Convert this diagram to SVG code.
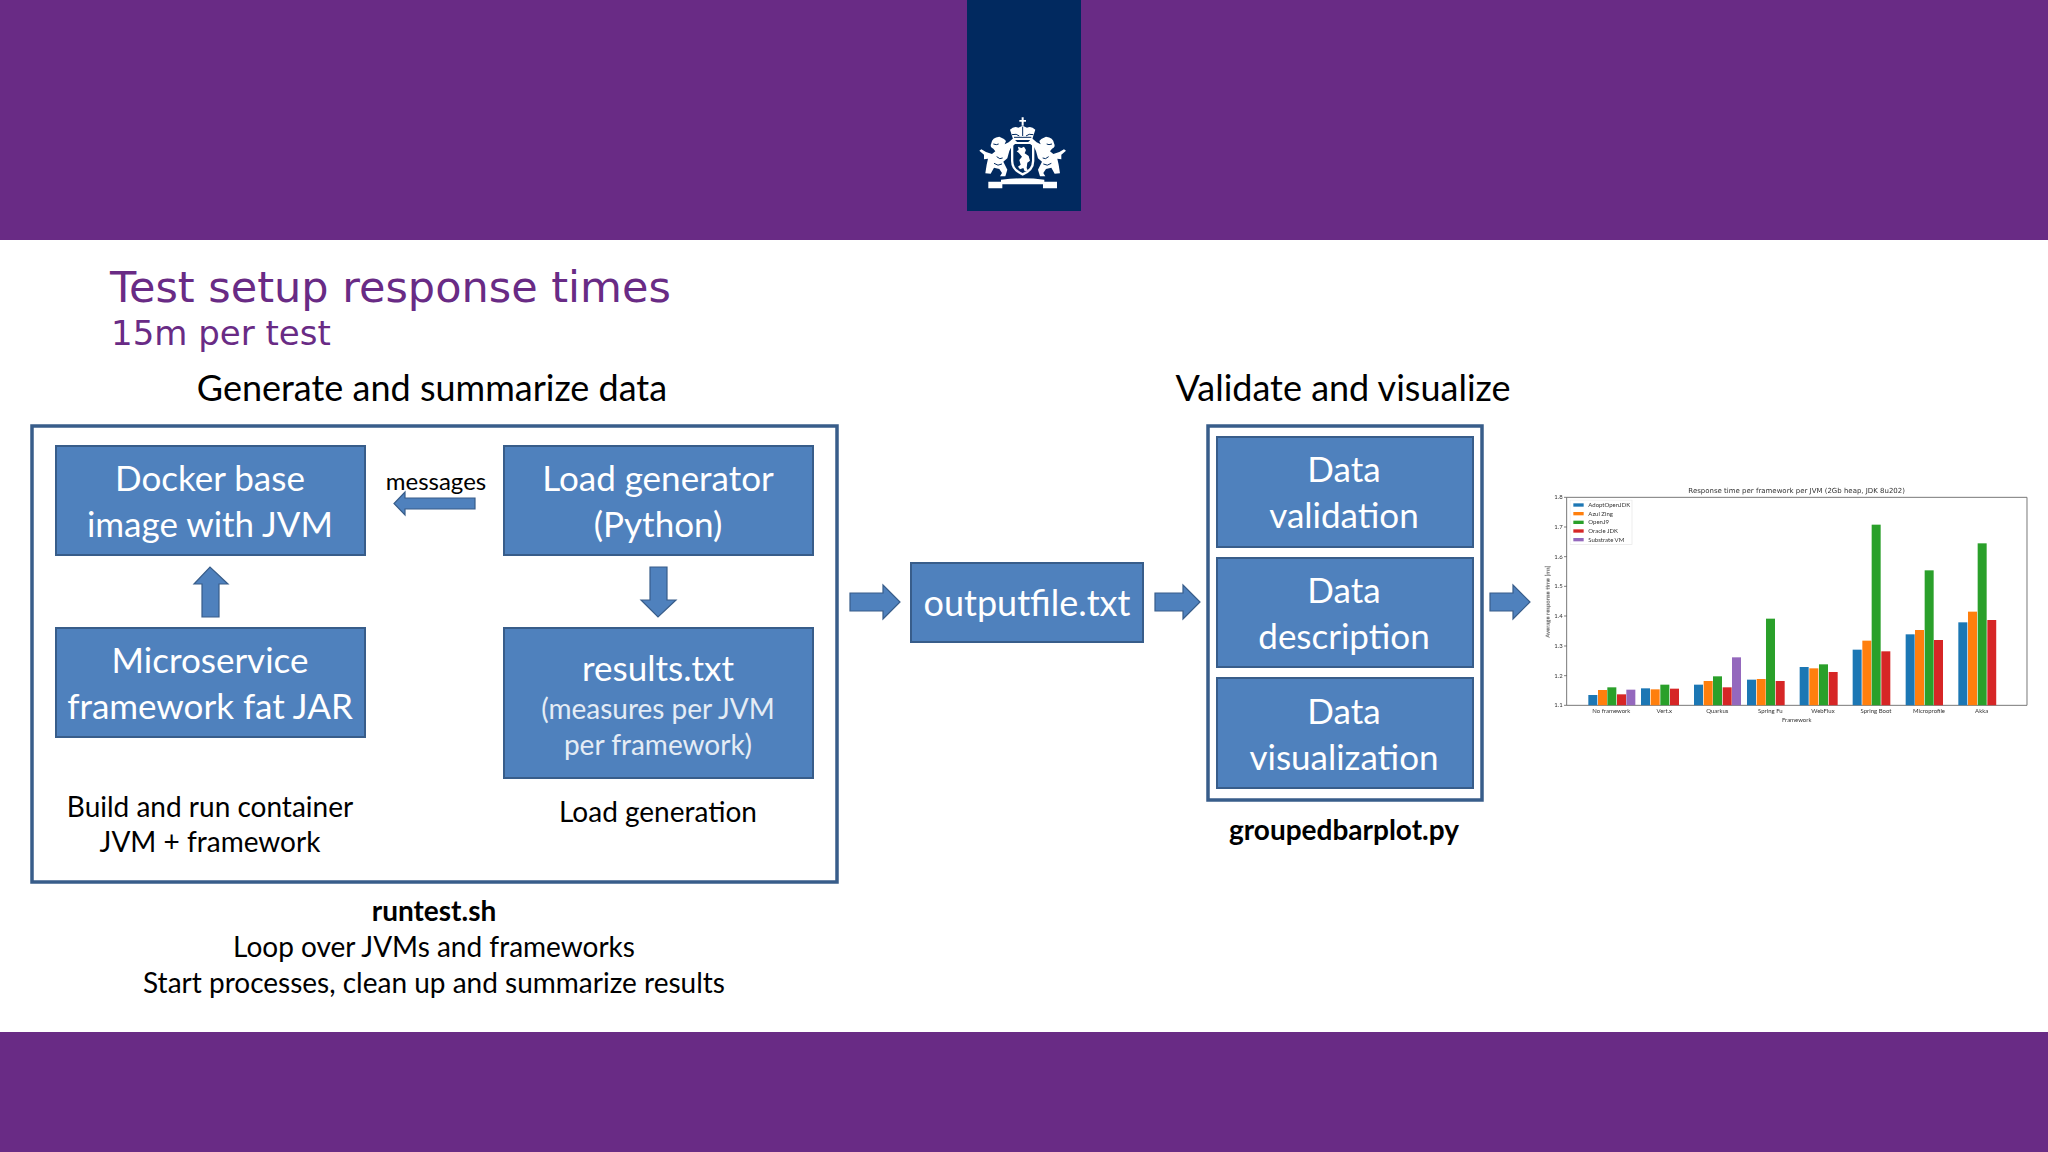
<svg xmlns="http://www.w3.org/2000/svg" width="2048" height="1152" viewBox="0 0 2048 1152">
<defs>
<style>
.band{fill:#692b85}
.box{fill:#4f81bd;stroke:#385d8a;stroke-width:2}
.frame{fill:#fff;stroke:#385d8a;stroke-width:3.500}
.arr{fill:#4f81bd;stroke:#385d8a;stroke-width:1.200}
text{font-family:"Lato","Carlito","Liberation Sans",sans-serif;text-anchor:middle}
.w{fill:#fff;font-size:35px}
.s{fill:#e4ecf5;font-size:28px}
.k{fill:#000;font-size:28px}
.m{fill:#000;font-size:24px}
.h{fill:#000;font-size:36px}
.b{font-weight:700}
.t{fill:#692b85;font-family:"DejaVu Sans",sans-serif;text-anchor:start}
.c{fill:#333;font-family:"DejaVu Sans",sans-serif;font-size:18px}
.cl{text-anchor:start}
.ct{text-anchor:end}
.ba{fill:#1f77b4}.or{fill:#ff7f0e}.gr{fill:#2ca02c}.re{fill:#d62728}.pu{fill:#9467bd}
.crest{fill:#fff}
.cut{fill:none;stroke:#01295f;stroke-width:3}
</style>
<filter id="soft" x="-5%" y="-5%" width="110%" height="110%"><feGaussianBlur stdDeviation="0.55"/></filter>
</defs>
<rect width="2048" height="1152" fill="#fff"/>
<rect class="band" width="2048" height="240"/>
<rect class="band" y="1032" width="2048" height="120"/>
<g id="logo">
<rect x="967" width="114" height="211" fill="#01295f"/>
<g class="crest" transform="translate(950 0) scale(.3333)" filter="url(#soft)">
<path d="M215 352h6v8h7v5h-7v12h-6v-12h-7v-5h7z"/>
<path d="M190 420l-10-31q12-12 25-6l13-6 13 6q13-6 25 6l-10 31z"/>
<path class="cut" d="M186 404q14-4 22 4M250 404q-14-4-22 4M218 380v28M192 412h52"/>
<path d="M183 426h70v57q0 30-35 44-35-14-35-44z"/>
<path fill="#01295f" d="M190 432h56v50q0 26-28 37-28-11-28-37z"/>
<path d="M204 440l10 4 8-4 6 10-4 10 12 8 4 14-8 6-2 16 4 8-10 2-4-10-10 4-6-8 8-6-4-14 8-10-10-12-6-4 6-4z"/>
<path d="M148 410q-22 2-24 20-6 12 6 16l6 8-10 8-18-6-14-8-6 4 14 12 0 14 12-2-4 18-4 26 16 1 10-18 16 4 8 12-6 10h16l6-20-12-24 12-10 6-22 6-12 18-14-12-12-14 12-12 6 4-10-6-6z"/>
<path d="M288 410q22 2 24 20 6 12-6 16l-6 8 10 8 18-6 14-8 6 4-14 12 0 14-12-2 4 18 4 26-16 1-10-18-16 4-8 12 6 10h-16l-6-20 12-24-12-10-6-22-6-12-18-14 12-12 14 12 12 6-4-10 6-6z"/>
<path class="cut" d="M130 432q10 4 16 0M140 470q10 10 18 4M132 490q12 10 24 2M306 432q-10 4-16 0M296 470q-10 10-18 4M304 490q-12 10-24 2"/>
<path d="M115 545h38v-6q65-8 130 0v6h38v20h-42v-12h-122v12h-42z"/>
</g>
</g>
<text class="t" x="110" y="302" font-size="43">Test setup response times</text>
<text class="t" x="111" y="345" font-size="34">15m per test</text>
<text class="h" x="432" y="401">Generate and summarize data</text>
<text class="h" x="1343" y="401">Validate and visualize</text>

<g id="generate-frame"><rect class="frame" x="32" y="426" width="805" height="456"/></g>
<g id="validate-frame"><rect class="frame" x="1208" y="426" width="274" height="374"/></g>

<g id="docker"><rect class="box" x="56" y="446" width="309" height="109"/>
<text class="w" x="210" y="491">Docker base</text><text class="w" x="210" y="537">image with JVM</text></g>
<g id="loadgen"><rect class="box" x="504" y="446" width="309" height="109"/>
<text class="w" x="658" y="491">Load generator</text><text class="w" x="658" y="537">(Python)</text></g>
<g id="microservice"><rect class="box" x="56" y="628" width="309" height="109"/>
<text class="w" x="210" y="673">Microservice</text><text class="w" x="210" y="719">framework fat JAR</text></g>
<g id="results"><rect class="box" x="504" y="628" width="309" height="150"/>
<text class="w" x="658" y="681">results.txt</text><text class="s" x="658" y="719">(measures per JVM</text><text class="s" x="658" y="755">per framework)</text></g>
<g id="outputfile"><rect class="box" x="911" y="563" width="232" height="79"/>
<text class="w" x="1027" y="616" style="font-size:36px">outputfile.txt</text></g>
<g id="validation"><rect class="box" x="1217" y="437" width="256" height="110"/>
<text class="w" x="1344" y="482">Data</text><text class="w" x="1344" y="528">validation</text></g>
<g id="description"><rect class="box" x="1217" y="558" width="256" height="109"/>
<text class="w" x="1344" y="603">Data</text><text class="w" x="1344" y="649">description</text></g>
<g id="visualization"><rect class="box" x="1217" y="678" width="256" height="110"/>
<text class="w" x="1344" y="724">Data</text><text class="w" x="1344" y="770">visualization</text></g>

<g id="connectors">
<path class="arr" d="M202 617v-33h-8l16-17 18 17h-9v33z"/>
<path class="arr" d="M650 567h17v33h9l-18 17-17-17h9z"/>
<path class="arr" d="M475 498v11h-70v6l-11-11.500 11-11.500v6z"/>
<path class="arr" d="M850 593h33v-8l17 17-17 17v-8h-33z"/>
<path class="arr" d="M1155 593h28v-8l17 17-17 17v-8h-28z"/>
<path class="arr" d="M1490 593h23v-8l17 17-17 17v-8h-23z"/>
</g>

<g id="labels">
<text class="m" x="436" y="490">messages</text>
<text class="k" x="210" y="817">Build and run container</text>
<text class="k" x="210" y="852">JVM + framework</text>
<text class="k" x="658" y="822">Load generation</text>
<text class="k b" x="1344" y="840">groupedbarplot.py</text>
<text class="k b" x="434" y="921">runtest.sh</text>
<text class="k" x="434" y="957">Loop over JVMs and frameworks</text>
<text class="k" x="434" y="993">Start processes, clean up and summarize results</text>
</g>

<g id="chart" transform="translate(1530 470) scale(.33333)" filter="url(#soft)">
<text class="c" x="800" y="70" style="font-size:21px">Response time per framework per JVM (2Gb heap, JDK 8u202)</text>
<g>
<path fill="none" stroke="#777" stroke-width="3" d="M110 82H1491V706H110z"/>
<path stroke="#444" stroke-width="2" d="M102 82h8M102 171h8M102 260h8M102 349h8M102 438h8M102 528h8M102 617h8M102 706h8"/>
</g>
<g class="c">
<text class="ct" x="98" y="88">1.8</text><text class="ct" x="98" y="177">1.7</text><text class="ct" x="98" y="266">1.6</text><text class="ct" x="98" y="355">1.5</text><text class="ct" x="98" y="444">1.4</text><text class="ct" x="98" y="534">1.3</text><text class="ct" x="98" y="623">1.2</text><text class="ct" x="98" y="712">1.1</text>
<text x="244" y="730">No framework</text><text x="403" y="730">Vert.x</text><text x="562" y="730">Quarkus</text><text x="721" y="730">Spring Fu</text><text x="879" y="730">WebFlux</text><text x="1038" y="730">Spring Boot</text><text x="1197" y="730">Microprofile</text><text x="1355" y="730">Akka</text>
<text x="800" y="755">Framework</text>
<text transform="translate(60 395) rotate(-90)">Average response time [ms]</text>
</g>
<rect x="120" y="90" width="186" height="134" fill="#fff" stroke="#e5e5e5" stroke-width="2"/>
<rect class="ba" x="130" y="100" width="31" height="10"/><rect class="or" x="130" y="126" width="31" height="10"/><rect class="gr" x="130" y="152" width="31" height="10"/><rect class="re" x="130" y="178" width="31" height="10"/><rect class="pu" x="130" y="204" width="31" height="10"/>
<g class="c">
<text class="cl" x="175" y="111">AdoptOpenJDK</text><text class="cl" x="175" y="137">Azul Zing</text><text class="cl" x="175" y="163">OpenJ9</text><text class="cl" x="175" y="189">Oracle JDK</text><text class="cl" x="175" y="215">Substrate VM</text>
</g>
<g id="bars">
<rect class="ba" x="175" y="675" width="27" height="31"/><rect class="or" x="204" y="660" width="27" height="46"/><rect class="gr" x="232" y="652" width="27" height="54"/><rect class="re" x="261" y="673" width="27" height="33"/><rect class="pu" x="289" y="659" width="27" height="47"/>
<rect class="ba" x="333" y="655" width="27" height="51"/><rect class="or" x="362" y="658" width="27" height="48"/><rect class="gr" x="391" y="644" width="27" height="62"/><rect class="re" x="420" y="656" width="27" height="50"/>
<rect class="ba" x="492" y="644" width="27" height="62"/><rect class="or" x="521" y="633" width="27" height="73"/><rect class="gr" x="549" y="619" width="27" height="87"/><rect class="re" x="578" y="652" width="27" height="54"/><rect class="pu" x="606" y="562" width="27" height="144"/>
<rect class="ba" x="651" y="629" width="27" height="77"/><rect class="or" x="680" y="627" width="27" height="79"/><rect class="gr" x="708" y="446" width="27" height="260"/><rect class="re" x="737" y="633" width="27" height="73"/>
<rect class="ba" x="809" y="591" width="27" height="115"/><rect class="or" x="838" y="595" width="27" height="111"/><rect class="gr" x="867" y="583" width="27" height="123"/><rect class="re" x="896" y="606" width="27" height="100"/>
<rect class="ba" x="968" y="539" width="27" height="167"/><rect class="or" x="997" y="512" width="27" height="194"/><rect class="gr" x="1025" y="164" width="27" height="542"/><rect class="re" x="1054" y="544" width="27" height="162"/>
<rect class="ba" x="1127" y="493" width="27" height="213"/><rect class="or" x="1155" y="480" width="27" height="226"/><rect class="gr" x="1184" y="301" width="27" height="405"/><rect class="re" x="1212" y="510" width="27" height="196"/>
<rect class="ba" x="1285" y="457" width="27" height="249"/><rect class="or" x="1314" y="425" width="27" height="281"/><rect class="gr" x="1343" y="220" width="27" height="486"/><rect class="re" x="1372" y="450" width="27" height="256"/>
</g>
</g>
</svg>
